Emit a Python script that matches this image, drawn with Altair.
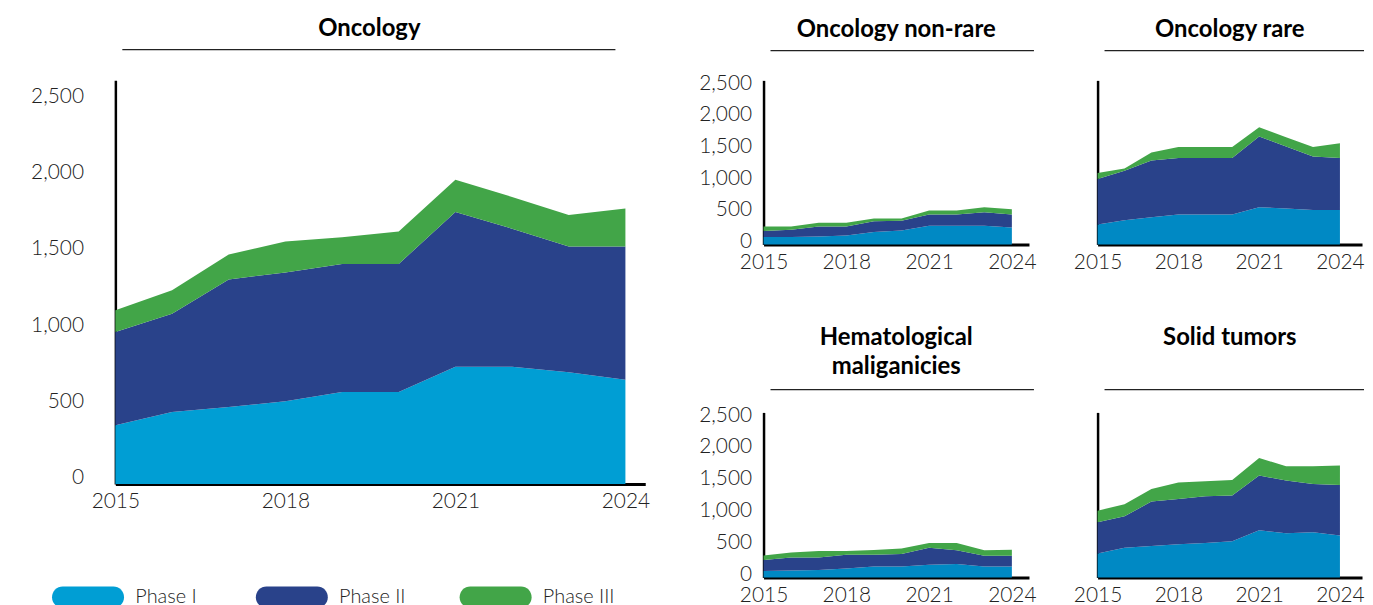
import altair as alt
import pandas as pd

years = [2015, 2016, 2017, 2018, 2019, 2020, 2021, 2022, 2023, 2024]
phases = ["Phase I", "Phase II", "Phase III"]

# Oncology (total)
onc_p1 = [385, 472, 504, 541, 602, 602, 768, 768, 732, 682]
onc_p2 = [610, 643, 834, 844, 838, 838, 1013, 903, 822, 872]
onc_p3 = [143, 153, 164, 202, 175, 212, 210, 208, 206, 249]

# Oncology non-rare
nr_p1 = [115, 115, 126, 141, 194, 220, 293, 293, 293, 267]
nr_p2 = [95, 116, 157, 142, 173, 152, 179, 179, 215, 205]
nr_p3 = [73, 52, 58, 58, 42, 37, 63, 63, 79, 84]

# Oncology rare
ra_p1 = [314, 383, 430, 472, 472, 472, 587, 566, 545, 545]
ra_p2 = [718, 781, 896, 891, 891, 891, 1116, 980, 844, 818]
ra_p3 = [95, 36, 126, 173, 173, 173, 147, 147, 147, 235]

# Hematological maliganicies
he_p1 = [100, 110, 115, 142, 173, 173, 199, 210, 173, 173]
he_p2 = [173, 204, 199, 214, 183, 194, 267, 215, 168, 168]
he_p3 = [73, 79, 100, 58, 74, 89, 74, 115, 84, 94]

# Solid tumors
so_p1 = [377, 466, 493, 519, 540, 566, 739, 692, 708, 660]
so_p2 = [488, 493, 697, 713, 734, 718, 860, 828, 760, 792]
so_p3 = [183, 189, 199, 256, 235, 246, 277, 225, 277, 304]

y_ticks = [0, 500, 1000, 1500, 2000, 2500]
x_ticks = [2015, 2018, 2021, 2024]

LIGHT = "#009ed4"
LIGHT_SMALL = "#0089c4"
DARK = "#29428a"
GREEN = "#42a548"
FONT = "Lato"
LABEL_SIZE = 21


def frame(p1, p2, p3):
    rows = []
    for i, yr in enumerate(years):
        for k, (ph, vals) in enumerate(zip(phases, [p1, p2, p3])):
            rows.append({"year": yr, "phase": ph, "value": vals[i], "ord": k})
    return pd.DataFrame(rows)


def panel(df, title, w, h, xmax, ymax, show_ylabels, light, legend, title_offset,
          ylab_pad, ylab_off, underline_gap, underline_end, title_dx=0):
    color = alt.Color(
        "phase:N",
        scale=alt.Scale(domain=phases, range=[light, DARK, GREEN]),
        legend=legend,
    )
    area = alt.Chart(df).mark_area(opacity=1).encode(
        x=alt.X(
            "year:Q",
            scale=alt.Scale(domain=[2015, xmax], nice=False, zero=False),
            axis=alt.Axis(
                values=x_ticks, format="d", title=None, ticks=False, grid=False,
                domainColor="black", domainWidth=3, labelPadding=7,
                labelFontSize=LABEL_SIZE, labelFont=FONT, labelFontWeight=300,
                labelColor="#222222", labelFlush=False,
            ),
        ),
        y=alt.Y(
            "value:Q",
            stack="zero",
            scale=alt.Scale(domain=[0, ymax], nice=False),
            axis=alt.Axis(
                values=y_ticks, format=",d", title=None, ticks=False, grid=False,
                domainColor="black", domainWidth=2.5, labels=show_ylabels,
                labelPadding=ylab_pad, labelOffset=ylab_off,
                labelFontSize=LABEL_SIZE, labelFont=FONT, labelFontWeight=300,
                labelColor="#222222",
            ),
        ),
        color=color,
        order=alt.Order("ord:Q"),
    )
    underline = alt.Chart(alt.Data(values=[{"u": 1}])).mark_rule(
        color="#222222", strokeWidth=1.2
    ).encode(
        x=alt.value(7), x2=alt.value(underline_end), y=alt.value(-underline_gap)
    )
    return alt.layer(area, underline).properties(
        width=w,
        height=h,
        view=alt.ViewBackground(stroke="transparent", strokeWidth=0),
        title=alt.Title(
            title, font=FONT, fontSize=24, fontWeight="bold", color="black",
            offset=title_offset, anchor="middle", lineHeight=29, dx=title_dx,
        ),
    )


legend = alt.Legend(
    title=None, orient="none", direction="horizontal", legendX=-53, legendY=494,
    symbolType="M-1,-0.42 L1,-0.42 A0.42,0.42 0 0 1 1,0.42 L-1,0.42 A0.42,0.42 0 0 1 -1,-0.42 Z",
    symbolSize=2600, symbolStrokeWidth=0, labelFontSize=20, labelFont=FONT,
    labelFontWeight=300, labelColor="#222222", columnPadding=48, labelOffset=22,
    gridAlign="all", columns=3,
)

big = panel(frame(onc_p1, onc_p2, onc_p3), "Oncology", 533, 406, 2024.35, 2642,
            True, LIGHT, legend, 8, 32, -6, 31, 503, title_dx=-11)
s1 = panel(frame(nr_p1, nr_p2, nr_p3), "Oncology non-rare", 267, 165, 2024.62, 2590,
           True, LIGHT_SMALL, None, 8, 12, -3, 30, 272)
s2 = panel(frame(ra_p1, ra_p2, ra_p3), "Oncology rare", 266, 165, 2024.82, 2590,
           False, LIGHT_SMALL, None, 8, 12, -3, 30, 268)
s3 = panel(frame(he_p1, he_p2, he_p3), ["Hematological", "maliganicies"], 267, 166,
           2024.62, 2590, True, LIGHT_SMALL, None, 10, 12, -3, 23, 272)
s4 = panel(frame(so_p1, so_p2, so_p3), ["Solid tumors", " "], 266, 166, 2024.82, 2590,
           False, LIGHT_SMALL, None, 10, 12, -3, 23, 268)

right = alt.vconcat(
    alt.hconcat(s1, s2, spacing=36),
    alt.hconcat(s3, s4, spacing=36),
    spacing=54,
)

chart = alt.hconcat(big, right, spacing=48).resolve_scale(
    color="independent"
).properties(
    padding={"left": 22, "right": 0, "top": 7, "bottom": 5}
).configure(background="white").configure_view(stroke="transparent", strokeWidth=0)

chart.save("out.html", embed_options={"renderer": "svg", "actions": False})
